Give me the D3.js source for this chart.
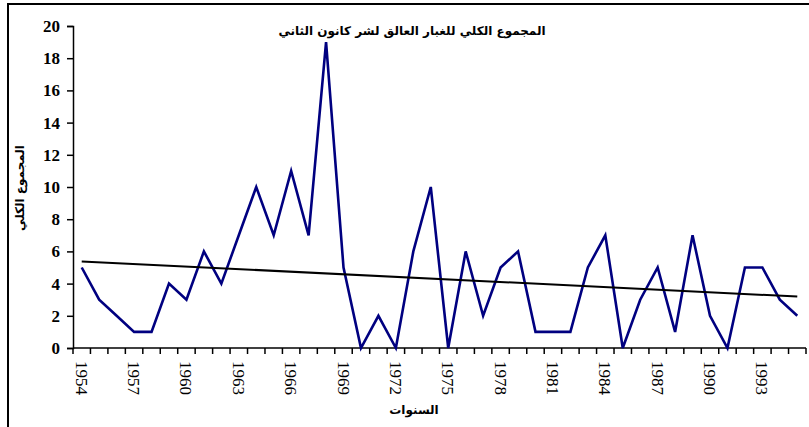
<!DOCTYPE html>
<html>
<head>
<meta charset="utf-8">
<script src="https://cdn.jsdelivr.net/npm/d3@7"></script>
<style>
  body { margin: 0; background: #fff; }
  #chart-container svg { display: block; }
  .serif { font-family: "Times New Roman", "Liberation Serif", "DejaVu Serif", serif; }
</style>
</head>
<body>
<div id="chart-container"></div>
<script>
// Yearly values
const years = d3.range(1954, 1996);
const totals = [5, 3, 2, 1, 1, 4, 3, 6, 4, 7,
                10, 7, 11, 7, 19, 5, 0, 2, 0, 6,
                10, 0, 6, 2, 5, 6, 1, 1, 1, 5,
                7, 0, 3, 5, 1, 7, 2, 0, 5, 5,
                3, 2];
const yTicks = [0, 2, 4, 6, 8, 10, 12, 14, 16, 18, 20];
const chartTitle = "المجموع الكلي للغبار العالق لشر كانون الثاني";
const xTitle = "السنوات";
const yTitle = "المجموع الكلي";

const width = 809;
const height = 427;
const margin = {top: 26, right: 3, bottom: 79, left: 73};

const svg = d3.select("#chart-container")
  .append("svg")
  .attr("width", width)
  .attr("height", height);

// outer frame (only top and left edges show in the picture)
svg.append("path")
  .attr("d", "M8,427V4H809")
  .attr("fill", "none")
  .attr("stroke", "#000")
  .attr("stroke-width", 2);

// categorical x axis, points at category centres, ticks between them
const x = d3.scaleBand()
  .domain(years)
  .range([margin.left, width - margin.right]);

const y = d3.scaleLinear()
  .domain([0, 20])
  .range([height - margin.bottom, margin.top]);

const cx = d => x(d) + x.bandwidth() / 2;

// y axis
const yAxis = svg.append("g")
  .attr("transform", `translate(${margin.left},0)`)
  .call(d3.axisLeft(y).tickValues(yTicks).tickSize(6).tickPadding(7));
yAxis.attr("font-family", null).attr("font-size", null);
yAxis.select(".domain").attr("stroke-width", 1.5);
yAxis.selectAll(".tick line").attr("stroke-width", 1.5);
yAxis.selectAll("text")
  .attr("class", "serif")
  .style("font-weight", "bold")
  .style("font-size", "17px")
  .attr("fill", "#000");

// x axis: tick marks at the band boundaries
const xBase = y(0);
const bounds = years.map(d => x(d)).concat([x(years[years.length - 1]) + x.bandwidth()]);
svg.append("line")
  .attr("x1", margin.left).attr("x2", width - margin.right)
  .attr("y1", xBase).attr("y2", xBase)
  .attr("stroke", "#000").attr("stroke-width", 1.5);
svg.selectAll(".xtick")
  .data(bounds)
  .enter()
  .append("line")
  .attr("x1", d => d).attr("x2", d => d)
  .attr("y1", xBase).attr("y2", xBase + 6)
  .attr("stroke", "#000").attr("stroke-width", 1.5);

// every third year label, turned to read downward
svg.selectAll(".xlabel")
  .data(years.filter((d, i) => i % 3 === 0))
  .enter()
  .append("text")
  .attr("class", "serif")
  .attr("transform", d => `translate(${cx(d)},${xBase + 13}) rotate(90)`)
  .attr("dy", "0.35em")
  .style("font-size", "17px")
  .text(d => d);

// data line
const line = d3.line()
  .x((d, i) => cx(years[i]))
  .y(d => y(d));

svg.append("path")
  .datum(totals)
  .attr("fill", "none")
  .attr("stroke", "#000080")
  .attr("stroke-width", 2.6)
  .attr("stroke-linejoin", "miter")
  .attr("d", line);

// linear trend line, least squares over the yearly values
const xs = years.map((d, i) => i);
const mx = d3.mean(xs);
const my = d3.mean(totals);
const slope = d3.sum(xs, (d, i) => (d - mx) * (totals[i] - my)) / d3.sum(xs, d => (d - mx) * (d - mx));
const intercept = my - slope * mx;

svg.append("line")
  .attr("x1", cx(years[0]))
  .attr("y1", y(intercept))
  .attr("x2", cx(years[years.length - 1]))
  .attr("y2", y(intercept + slope * (years.length - 1)))
  .attr("stroke", "#000")
  .attr("stroke-width", 2);

// titles
svg.append("text")
  .attr("x", 412)
  .attr("y", 35)
  .attr("text-anchor", "middle")
  .attr("font-family", "DejaVu Sans")
  .attr("font-weight", "bold")
  .attr("font-size", 12)
  .attr("direction", "rtl")
  .text(chartTitle);

svg.append("text")
  .attr("x", 414)
  .attr("y", 414)
  .attr("text-anchor", "middle")
  .attr("font-family", "DejaVu Sans")
  .attr("font-weight", "bold")
  .attr("font-size", 12)
  .text(xTitle);

svg.append("text")
  .attr("transform", "translate(24,188) rotate(-90)")
  .attr("text-anchor", "middle")
  .attr("font-family", "DejaVu Sans")
  .attr("font-weight", "bold")
  .attr("font-size", 12)
  .text(yTitle);
</script>
</body>
</html>
